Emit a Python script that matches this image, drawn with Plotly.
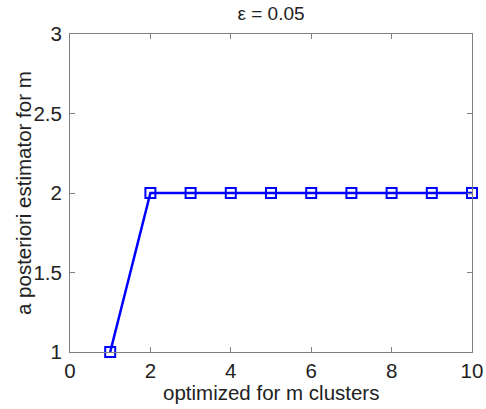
import plotly.graph_objects as go

x_vals = [1, 2, 3, 4, 5, 6, 7, 8, 9, 10]
y_vals = [1, 2, 2, 2, 2, 2, 2, 2, 2, 2]
x_ticks = [0, 2, 4, 6, 8, 10]
y_ticks = [1, 1.5, 2, 2.5, 3]
y_tick_text = ["1", "1.5", "2", "2.5", "3"]

FONT = "Liberation Sans, Arial, sans-serif"

fig = go.Figure()
fig.add_trace(go.Scatter(
    x=x_vals, y=y_vals, mode="lines+markers",
    line=dict(color="#0000FF", width=2.5),
    marker=dict(symbol="square-open", size=10, color="#0000FF", line=dict(width=2, color="#0000FF")),
    cliponaxis=False,
))

axis_common = dict(
    showgrid=False, zeroline=False, showline=True, linecolor="#808080", linewidth=1,
    mirror="ticks", ticks="inside", ticklen=5, tickcolor="#808080",
    tickfont=dict(family=FONT, size=20.5, color="#222222"),
)

fig.update_layout(
    width=486, height=409,
    margin=dict(l=70, r=14, t=34, b=57, autoexpand=False),
    plot_bgcolor="white", paper_bgcolor="white",
    showlegend=False,
    title=dict(text="ε = 0.05", xref="paper", x=0.5, xanchor="center", yref="container", y=0.967, yanchor="middle",
               pad=dict(t=0, b=0), font=dict(family=FONT, size=19, color="#222222")),
    xaxis=dict(range=[0, 10], tickvals=x_ticks, ticktext=[str(t) for t in x_ticks], ticklabelstandoff=0, **axis_common),
    yaxis=dict(range=[1, 3], tickvals=y_ticks, ticktext=y_tick_text, ticklabelstandoff=3, **axis_common),
    annotations=[
        dict(text="optimized for m clusters", xref="paper", yref="paper", x=0.5, y=0,
             xanchor="center", yanchor="middle", yshift=-40, showarrow=False,
             font=dict(family=FONT, size=20.5, color="#222222")),
        dict(text="a posteriori estimator for m", xref="paper", yref="paper", x=0, y=0.5,
             xanchor="center", yanchor="middle", xshift=-47, textangle=-90, showarrow=False,
             font=dict(family=FONT, size=20.5, color="#222222")),
    ],
)

fig.write_html("out.html", config={"displayModeBar": False},
               post_script="document.body.style.margin='0';")
